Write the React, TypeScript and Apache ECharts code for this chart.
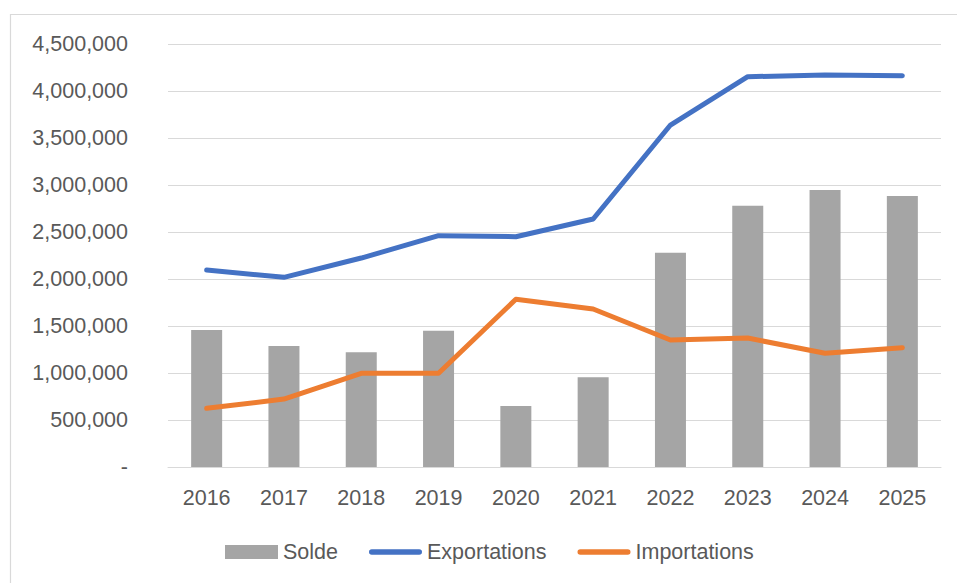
import React, { useEffect, useRef } from "react";
import * as echarts from "echarts";

const years = ["2016", "2017", "2018", "2019", "2020", "2021", "2022", "2023", "2024", "2025"];
const solde = [1457000, 1287000, 1220000, 1450000, 649000, 954000, 2280000, 2779000, 2947000, 2883000];
const exportations = [2096000, 2018000, 2223000, 2461000, 2450000, 2638000, 3638000, 4152000, 4170000, 4163000];
const importations = [624000, 723000, 997000, 997000, 1784000, 1681000, 1351000, 1372000, 1210000, 1269000];

const FONT = "Liberation Sans";
const TEXT = "#595959";
const LINE_ICON = "path://M3,0 L54,0 A3,3 0 0 1 54,6 L3,6 A3,3 0 0 1 3,0 Z";

export default function App() {
  const ref = useRef<HTMLDivElement>(null);
  useEffect(() => {
    if (!ref.current) return;
    const chart = echarts.init(ref.current, undefined, { renderer: "svg" });
    chart.setOption({
      animation: false,
      backgroundColor: "#ffffff",
      textStyle: { fontFamily: FONT, color: TEXT },
      graphic: [
        {
          type: "rect",
          z: -10,
          shape: { x: 10.5, y: 14.5, width: 1000, height: 1000 },
          style: { fill: "none", stroke: "#d9d9d9", lineWidth: 1.2 },
        },
      ],
      grid: { left: 168, right: 16, top: 44, bottom: 116, containLabel: false },
      legend: {
        left: 220,
        top: 536,
        itemWidth: 53,
        itemHeight: 14,
        itemGap: 31,
        textStyle: { fontFamily: FONT, fontSize: 21.5, color: TEXT },
        data: [
          { name: "Solde", icon: "rect" },
          { name: "Exportations", icon: LINE_ICON },
          { name: "Importations", icon: LINE_ICON },
        ],
      },
      xAxis: {
        type: "category",
        data: years,
        axisLine: { show: true, lineStyle: { color: "#d9d9d9", width: 1 } },
        axisTick: { show: false },
        axisLabel: { fontFamily: FONT, fontSize: 21.5, color: TEXT, margin: 20 },
      },
      yAxis: {
        type: "value",
        min: 0,
        max: 4500000,
        interval: 500000,
        axisLine: { show: false },
        axisTick: { show: false },
        splitLine: { lineStyle: { color: "#d9d9d9", width: 1 } },
        axisLabel: {
          fontFamily: FONT,
          fontSize: 21.5,
          color: TEXT,
          margin: 40,
          formatter: (v: number) => (v === 0 ? "-" : v.toLocaleString("en-US")),
        },
      },
      series: [
        {
          name: "Solde",
          type: "bar",
          data: solde,
          barWidth: 31,
          itemStyle: { color: "#a5a5a5" },
        },
        {
          name: "Exportations",
          type: "line",
          data: exportations,
          symbol: "none",
          itemStyle: { color: "#4472c4" },
          lineStyle: { color: "#4472c4", width: 5, cap: "round", join: "round" },
        },
        {
          name: "Importations",
          type: "line",
          data: importations,
          symbol: "none",
          itemStyle: { color: "#ed7d31" },
          lineStyle: { color: "#ed7d31", width: 5, cap: "round", join: "round" },
        },
      ],
    });
    return () => chart.dispose();
  }, []);
  return (
    <div
      ref={ref}
      style={{ position: "fixed", left: 0, top: 0, width: 957, height: 583, background: "#fff" }}
    />
  );
}
